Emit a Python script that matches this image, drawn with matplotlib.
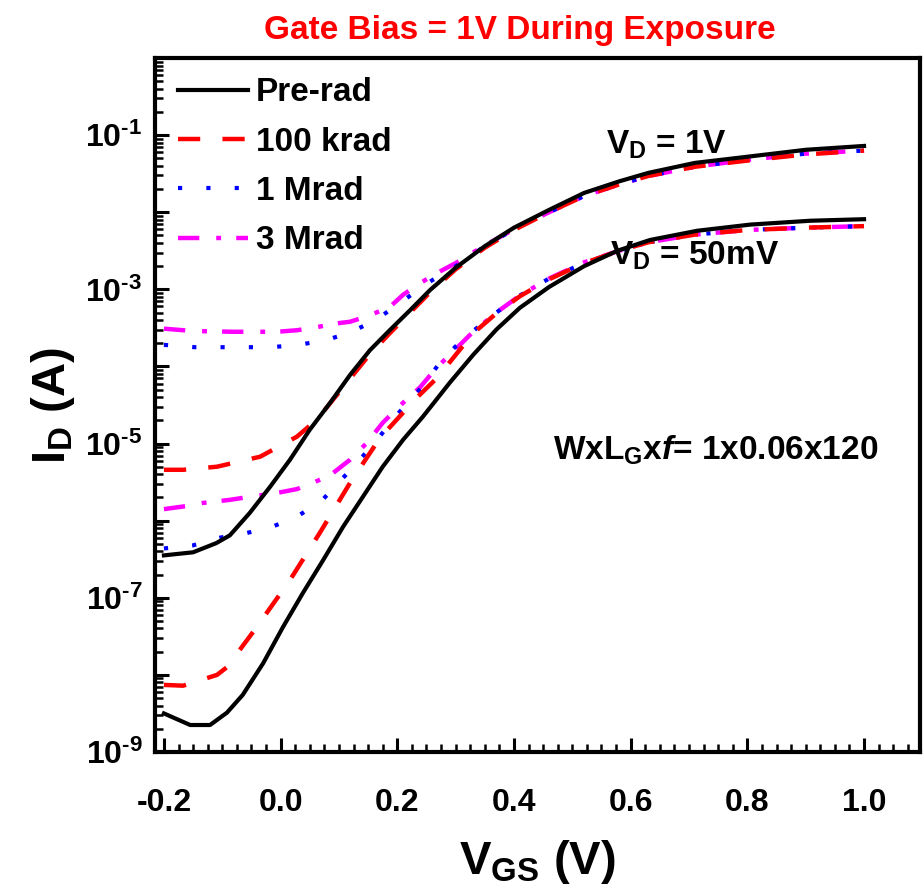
import numpy as np
import matplotlib
matplotlib.use("Agg")
import matplotlib.pyplot as plt
from matplotlib.ticker import FixedLocator, NullFormatter

plt.rcParams['font.family'] = ['Liberation Sans', 'DejaVu Sans']
plt.rcParams['font.weight'] = 'bold'
plt.rcParams['mathtext.fontset'] = 'custom'
plt.rcParams['mathtext.rm'] = 'Liberation Sans:bold'
plt.rcParams['mathtext.bf'] = 'Liberation Sans:bold'
plt.rcParams['mathtext.it'] = 'Liberation Sans:bold:italic'
plt.rcParams['mathtext.default'] = 'rm'

# ---------------- data (log10 of I_D in A) ----------------
# V_D = 1 V
x_pre_1v = [-0.20, -0.15, -0.11, -0.087, -0.053, -0.018, 0.016, 0.05, 0.085, 0.119, 0.153, 0.187,
            0.222, 0.256, 0.30, 0.35, 0.40, 0.46, 0.52, 0.58, 0.63, 0.71, 0.80, 0.90, 1.00]
log_pre_1v = [-6.45, -6.41, -6.29, -6.19, -5.90, -5.56, -5.21, -4.82, -4.47, -4.11, -3.79, -3.53,
              -3.27, -3.01, -2.72, -2.44, -2.20, -1.97, -1.75, -1.60, -1.49, -1.36, -1.28, -1.19, -1.14]

x_100k_1v = [-0.20, -0.167, -0.109, -0.035, 0.028, 0.062, 0.107, 0.153, 0.187, 0.222, 0.256, 0.30,
             0.35, 0.40, 0.46, 0.52, 0.58, 0.63, 0.71, 0.80, 0.90, 1.00]
log_100k_1v = [-5.34, -5.34, -5.30, -5.17, -4.91, -4.69, -4.27, -3.84, -3.57, -3.30, -3.04, -2.74,
               -2.46, -2.23, -2.00, -1.79, -1.64, -1.53, -1.41, -1.33, -1.25, -1.20]

x_1m_1v = [-0.20, -0.147, -0.104, -0.058, -0.015, 0.028, 0.073, 0.115, 0.158, 0.201, 0.247, 0.30,
           0.35, 0.40, 0.46, 0.52, 0.58, 0.63, 0.71, 0.80, 0.90, 1.00]
log_1m_1v = [-3.72, -3.75, -3.75, -3.75, -3.75, -3.72, -3.67, -3.57, -3.42, -3.20, -2.94, -2.70,
             -2.44, -2.22, -2.00, -1.79, -1.64, -1.53, -1.41, -1.32, -1.24, -1.20]

x_3m_1v = [-0.20, -0.15, -0.082, -0.006, 0.028, 0.055, 0.097, 0.119, 0.148, 0.187, 0.210, 0.239,
           0.27, 0.30, 0.35, 0.40, 0.46, 0.52, 0.58, 0.63, 0.71, 0.80, 0.90, 1.00]
log_3m_1v = [-3.51, -3.54, -3.55, -3.55, -3.53, -3.50, -3.44, -3.42, -3.35, -3.23, -3.07, -2.92,
             -2.78, -2.66, -2.43, -2.22, -2.00, -1.79, -1.64, -1.53, -1.41, -1.32, -1.24, -1.20]

# V_D = 50 mV
x_pre_50 = [-0.20, -0.155, -0.121, -0.092, -0.065, -0.030, 0.004, 0.038, 0.073, 0.107, 0.141, 0.175,
            0.210, 0.244, 0.29, 0.33, 0.37, 0.41, 0.46, 0.52, 0.577, 0.633, 0.714, 0.805, 0.908, 1.00]
log_pre_50 = [-8.50, -8.65, -8.65, -8.49, -8.26, -7.85, -7.38, -6.94, -6.51, -6.08, -5.69, -5.30,
              -4.95, -4.65, -4.21, -3.85, -3.52, -3.24, -2.97, -2.70, -2.50, -2.36, -2.24, -2.16, -2.11, -2.09]

x_100k_50 = [-0.20, -0.167, -0.109, -0.092, -0.041, 0.016, 0.067, 0.119, 0.170, 0.234, 0.268, 0.30,
             0.33, 0.37, 0.41, 0.46, 0.52, 0.58, 0.63, 0.71, 0.80, 0.90, 1.00]
log_100k_50 = [-8.13, -8.14, -8.00, -7.90, -7.38, -6.77, -6.16, -5.51, -4.93, -4.40, -4.15, -3.85,
               -3.57, -3.31, -3.09, -2.87, -2.66, -2.50, -2.39, -2.29, -2.23, -2.20, -2.18]

x_1m_50 = [-0.20, -0.15, -0.104, -0.058, -0.015, 0.028, 0.073, 0.115, 0.158, 0.199, 0.242, 0.273,
           0.30, 0.33, 0.37, 0.41, 0.46, 0.52, 0.58, 0.63, 0.71, 0.80, 0.90, 1.00]
log_1m_50 = [-6.36, -6.32, -6.22, -6.16, -6.08, -5.95, -5.72, -5.38, -5.02, -4.63, -4.27, -3.95,
             -3.74, -3.54, -3.30, -3.08, -2.86, -2.66, -2.50, -2.39, -2.29, -2.23, -2.20, -2.18]

x_3m_50 = [-0.20, -0.161, -0.133, -0.087, -0.053, -0.006, 0.028, 0.055, 0.085, 0.119, 0.148, 0.175,
           0.210, 0.239, 0.268, 0.29, 0.33, 0.37, 0.41, 0.46, 0.52, 0.58, 0.63, 0.71, 0.80, 0.90, 1.00]
log_3m_50 = [-5.85, -5.81, -5.77, -5.73, -5.69, -5.64, -5.59, -5.51, -5.41, -5.21, -4.99, -4.73,
             -4.47, -4.27, -4.01, -3.85, -3.55, -3.30, -3.08, -2.86, -2.65, -2.50, -2.39, -2.29, -2.23, -2.20, -2.18]

series_labels = ['Pre-rad', '100 krad', '1 Mrad', '3 Mrad']
y_tick_exponents = [-9, -8, -7, -6, -5, -4, -3, -2, -1]
x_tick_values = [-0.2, 0.0, 0.2, 0.4, 0.6, 0.8, 1.0]

# ---------------- styles ----------------
styles = [
    dict(color='black', lw=3.0, ls='-'),
    dict(color='#ff0000', lw=3.2, ls=(0, (5.0, 5.0))),
    dict(color='#0000ff', lw=3.0, ls=(0, (1.0, 5.8))),
    dict(color='#ff00ff', lw=3.2, ls=(0, (4.8, 3.8, 1.1, 3.4))),
]

fig = plt.figure(figsize=(9.24, 8.93), dpi=100)
ax = fig.add_axes([0.1677, 0.1579, 0.8280, 0.7771])

one_v = [(x_pre_1v, log_pre_1v), (x_100k_1v, log_100k_1v), (x_1m_1v, log_1m_1v), (x_3m_1v, log_3m_1v)]
fifty = [(x_pre_50, log_pre_50), (x_100k_50, log_100k_50), (x_1m_50, log_1m_50), (x_3m_50, log_3m_50)]

order = [3, 2, 1, 0]
handles = [None] * 4
for i in order:
    st = styles[i]
    xs, ls_ = one_v[i]
    h, = ax.plot(xs, 10.0 ** np.array(ls_), color=st['color'], lw=st['lw'], linestyle=st['ls'],
                 label=series_labels[i], zorder=2 + (3 - i))
    handles[i] = h
    xs, ls_ = fifty[i]
    ax.plot(xs, 10.0 ** np.array(ls_), color=st['color'], lw=st['lw'], linestyle=st['ls'],
            zorder=2 + (3 - i))

ax.set_yscale('log')
ax.set_xlim(-0.2154, 1.096)
ax.set_ylim(1e-9, 1e0)

# ticks
ax.yaxis.set_major_locator(FixedLocator([10.0 ** e for e in y_tick_exponents]))
ax.set_yticklabels([(r'10$^{\text{%d}}$' % e) if e % 2 else '' for e in y_tick_exponents])
minor_y = [m * 10.0 ** e for e in range(-9, 0) for m in range(2, 10)]
ax.yaxis.set_minor_locator(FixedLocator(minor_y))
ax.yaxis.set_minor_formatter(NullFormatter())
ax.set_xticks(x_tick_values)
ax.set_xticklabels(['%.1f' % v for v in x_tick_values])
ax.set_xticks(np.arange(-0.2, 1.1, 0.025), minor=True)

ax.tick_params(axis='both', which='major', direction='in', length=10, width=2.2,
               labelsize=23, top=False, right=False)
ax.tick_params(axis='both', which='minor', direction='in', length=6, width=1.8,
               top=False, right=False)
ax.tick_params(axis='x', which='major', pad=26)
ax.tick_params(axis='y', which='major', pad=9)
for lab in ax.get_xticklabels() + ax.get_yticklabels():
    lab.set_fontweight('bold')

for sp in ax.spines.values():
    sp.set_linewidth(3.0)

ax.set_xlabel(r'V$_{\mathrm{GS}}$ (V)', fontsize=34, fontweight='bold', labelpad=14)
ax.set_ylabel(r'I$_{\mathrm{D}}$ (A)', fontsize=34, fontweight='bold', labelpad=6)

fig.text(0.563, 0.966, 'Gate Bias = 1V During Exposure', color='#ff0000', fontsize=24,
         fontweight='bold', ha='center', va='center')

ax.text(0.59, 0.875, r'V$_{\mathrm{D}}$ = 1V', transform=ax.transAxes, fontsize=24,
        fontweight='bold', ha='left', va='center')
ax.text(0.595, 0.715, r'V$_{\mathrm{D}}$ = 50mV', transform=ax.transAxes, fontsize=24,
        fontweight='bold', ha='left', va='center')
ax.text(0.52, 0.435, r'WxL$_{\mathrm{G}}$x$\mathit{f}$= 1x0.06x120', transform=ax.transAxes,
        fontsize=24, fontweight='bold', ha='left', va='center')

leg = ax.legend(handles=handles, loc='upper left', bbox_to_anchor=(0.03, 0.972), frameon=False,
                fontsize=24, handlelength=2.1, handletextpad=0.25, labelspacing=0.55,
                borderpad=0, borderaxespad=0)
for t in leg.get_texts():
    t.set_fontweight('bold')

fig.savefig('out.png', dpi=100)
